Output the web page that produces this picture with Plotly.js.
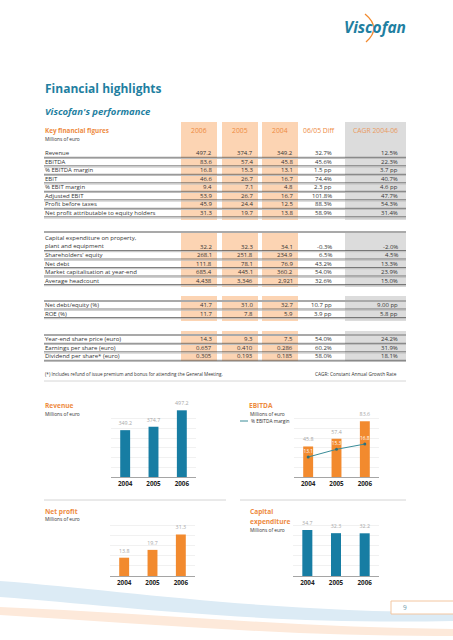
<!DOCTYPE html>
<html><head><meta charset="utf-8">
<script src="https://cdn.plot.ly/plotly-3.0.1.min.js"></script>
<style>html,body{margin:0;padding:0;background:#fff;overflow:hidden}#chart{width:453px;height:640px}</style>
</head><body><div id="chart"></div>
<script>
// ---------- DATA ----------
const years = ['2004', '2005', '2006'];
const revenue = [349.2, 374.7, 497.2];
const ebitda = [45.8, 57.4, 83.6];
const ebitdaMargin = [13.1, 15.3, 16.8];
const netProfit = [13.8, 19.7, 31.3];
const capex = [34.7, 32.3, 32.2];

const tableHeaders = ['2006', '2005', '2004', '06/05 Diff', 'CAGR 2004-06'];

const block1Labels = ['Revenue', 'EBITDA', '% EBITDA margin', 'EBIT', '% EBIT margin', 'Adjusted EBIT', 'Profit before taxes', 'Net profit attributable to equity holders'];
const block1_2006 = ['497.2', '83.6', '16.8', '46.6', '9.4', '53.9', '45.9', '31.3'];
const block1_2005 = ['374.7', '57.4', '15.3', '26.7', '7.1', '26.7', '24.4', '19.7'];
const block1_2004 = ['349.2', '45.8', '13.1', '16.7', '4.8', '16.7', '12.5', '13.8'];
const block1_diff = ['32.7%', '45.6%', '1.5 pp', '74.4%', '2.3 pp', '101.8%', '88.3%', '58.9%'];
const block1_cagr = ['12.5%', '22.3%', '3.7 pp', '40.7%', '4.6 pp', '47.7%', '54.3%', '31.4%'];

const block2Labels = ['Capital expenditure on property,<br>plant and equipment', "Shareholders' equity", 'Net debt', 'Market capitalisation at year-end', 'Average headcount'];
const block2_2006 = ['32.2', '268.1', '111.8', '685.4', '4,438'];
const block2_2005 = ['32.3', '251.8', '78.1', '445.1', '3,346'];
const block2_2004 = ['34.1', '234.9', '76.9', '360.2', '2,921'];
const block2_diff = ['-0.3%', '6.5%', '43.2%', '54.0%', '32.6%'];
const block2_cagr = ['-2.0%', '4.5%', '13.3%', '23.9%', '15.0%'];

const block3Labels = ['Net debt/equity (%)', 'ROE (%)'];
const block3_2006 = ['41.7', '11.7'];
const block3_2005 = ['31.0', '7.8'];
const block3_2004 = ['32.7', '5.9'];
const block3_diff = ['10.7 pp', '3.9 pp'];
const block3_cagr = ['9.00 pp', '5.8 pp'];

const block4Labels = ['Year-end share price (euro)', 'Earnings per share (euro)', 'Dividend per share* (euro)'];
const block4_2006 = ['14.3', '0.657', '0.305'];
const block4_2005 = ['9.3', '0.410', '0.193'];
const block4_2004 = ['7.5', '0.286', '0.185'];
const block4_diff = ['54.0%', '60.2%', '58.0%'];
const block4_cagr = ['24.2%', '31.9%', '18.1%'];

// ---------- LAYOUT HELPERS ----------
const W = 453, H = 640;
const X = p => p / W, Y = p => 1 - p / H;
const F = 'Open Sans, sans-serif';
const TEAL = '#177da3', ORANGE = '#f28a2e', TITLE_OR = '#ee8b3f', HEAD_TEAL = '#1f7fa1';
const PEACH = '#fcd4b3', GREY = '#dcdcdc', TXT = '#333';
const ann = [], shp = [];

function txt(t, x, y, font, o) {
  ann.push(Object.assign({text: t, xref: 'paper', yref: 'paper', x: X(x), y: Y(y), xanchor: 'left', yanchor: 'middle',
    align: 'left', showarrow: false, borderpad: 0, font: Object.assign({family: F, size: 6, color: TXT}, font || {})}, o || {}));
}
function hline(x0, x1, y, color, w, layer) {
  shp.push({type: 'line', xref: 'paper', yref: 'paper', x0: X(x0), x1: X(x1), y0: Y(y), y1: Y(y), line: {color: color, width: w}, layer: layer || 'above'});
}
function rect(x0, x1, y0, y1, fill, line, layer) {
  shp.push({type: 'rect', xref: 'paper', yref: 'paper', x0: X(x0), x1: X(x1), y0: Y(y1), y1: Y(y0), fillcolor: fill,
    line: line || {width: 0}, layer: layer || 'below'});
}
function P(x, y) { return X(x).toFixed(5) + ',' + Y(y).toFixed(5); }

// ---------- HEADER / LOGO ----------
txt('Viscofan', 375, 27, {size: 15.5, color: HEAD_TEAL, weight: 700, style: 'italic'}, {xanchor: 'center'});
shp.push({type: 'path', xref: 'paper', yref: 'paper', path: 'M ' + P(365, 14) + ' Q ' + P(382, 28) + ' ' + P(366, 42),
  line: {color: ORANGE, width: 1.3}});

txt('Financial highlights', 44, 89, {size: 12, color: HEAD_TEAL, weight: 700});
txt("Viscofan's performance", 44, 111, {size: 9.5, color: HEAD_TEAL, weight: 700, style: 'italic'});

// ---------- TABLE ----------
const colBox = [[181, 217], [222, 258], [262, 298]];
const cagrBox = [345, 406];
const colRight = [213, 254, 294, 333, 399];
const headCenter = [199, 240, 280, 318.5, 375.5];
const blocks = [
  {labels: block1Labels, cols: [block1_2006, block1_2005, block1_2004, block1_diff, block1_cagr], first: 153.3, top: 122, bottom: 220, topLine: null},
  {labels: block2Labels, cols: [block2_2006, block2_2005, block2_2004, block2_diff, block2_cagr], first: 246.5, top: 231, bottom: 287, topLine: 232},
  {labels: block3Labels, cols: [block3_2006, block3_2005, block3_2004, block3_diff, block3_cagr], first: 305, top: 296, bottom: 321, topLine: 301},
  {labels: block4Labels, cols: [block4_2006, block4_2005, block4_2004, block4_diff, block4_cagr], first: 339.3, top: 331, bottom: 362, topLine: 335}
];
const PITCH = 8.5;

blocks.forEach(b => {
  colBox.forEach(c => rect(c[0], c[1], b.top, b.bottom, PEACH));
  rect(cagrBox[0], cagrBox[1], b.top, b.bottom, GREY);
  if (b.topLine) hline(44, 406, b.topLine, '#a9a9a9', 2);
  b.labels.forEach((lab, i) => {
    const y = b.first + i * PITCH;
    const twoLine = lab.indexOf('<br>') >= 0;
    txt(lab, 44, twoLine ? y - 4.2 : y, {size: 6});
    b.cols.forEach((col, j) => txt(col[i], colRight[j], y, {size: 6}, {xanchor: 'right'}));
    hline(44, 406, y + 4.0, '#4a4a4a', 0.7);
    hline(44, 406, y + 5.2, '#bdbdbd', 1);
  });
});

txt('Key financial figures', 44, 130, {size: 6.3, color: TITLE_OR, weight: 700});
txt('Millions of euro', 44, 139, {size: 4.8, color: TXT});
tableHeaders.forEach((h, j) => txt(h, headCenter[j], 130, {size: 6.8, color: j === 4 ? '#e99a5e' : TITLE_OR}, {xanchor: 'center'}));

txt('(*) Includes refund of issue premium and bonus for attending the General Meeting.', 44, 374, {size: 4.6});
txt('CAGR: Constant Annual Growth Rate', 398, 374, {size: 4.8}, {xanchor: 'right'});
hline(44, 406, 381, '#d6d6d6', 1);

// ---------- CHART TITLES ----------
const CT = {size: 6.6, color: TITLE_OR, weight: 700};
txt('Revenue', 44, 405, CT);
txt('Millions of euro', 44, 414, {size: 4.8});
txt('EBITDA', 248, 405, CT);
txt('Millions of euro', 249, 414, {size: 4.8});
hline(240, 248, 421, '#3a8c98', 1);
txt('% EBITDA margin', 250, 421, {size: 4.8});
hline(44, 226, 500, '#d4d4d4', 1);
hline(240, 406, 500, '#d4d4d4', 1);
txt('Net profit', 44, 511, CT);
txt('Millions of euro', 44, 519, {size: 4.8});
txt('Capital', 249, 511, CT);
txt('expenditure', 249, 521, CT);
txt('Millions of euro', 249, 530, {size: 4.8});

// ---------- DECORATION ----------
shp.push({type: 'path', xref: 'paper', yref: 'paper', layer: 'below', line: {width: 0}, fillcolor: '#dcebf5',
  path: 'M ' + P(0, 581) + ' C ' + P(120, 590) + ' ' + P(260, 612) + ' ' + P(453, 612) + ' L ' + P(453, 621) +
        ' C ' + P(260, 625) + ' ' + P(120, 606) + ' ' + P(0, 597) + ' Z'});
shp.push({type: 'path', xref: 'paper', yref: 'paper', layer: 'below', line: {width: 0}, fillcolor: '#fde9da',
  path: 'M ' + P(0, 607) + ' C ' + P(150, 613) + ' ' + P(300, 628) + ' ' + P(453, 629) + ' L ' + P(453, 636) +
        ' C ' + P(300, 637) + ' ' + P(150, 624) + ' ' + P(0, 615) + ' Z'});
rect(391, 454, 601, 614, '#ffffff', {color: '#f3c6a0', width: 1}, 'above');
txt('9', 402, 607.5, {size: 6.5, color: '#6f97a8'});

// ---------- AXES ----------
function xax(d0, d1, anchor) {
  return {domain: [X(d0), X(d1)], anchor: anchor, type: 'category', showgrid: false, zeroline: false,
    showline: true, linecolor: '#a5a5a5', linewidth: 1, ticks: '', fixedrange: true,
    tickfont: {family: F, size: 6.3, color: '#222', weight: 700}};
}
function yax(top, bottom, range, n, anchor) {
  return {domain: [Y(bottom), Y(top)], anchor: anchor, range: range, dtick: (range[1] - range[0]) / n,
    showticklabels: false, ticks: '', zeroline: false, showline: false, showgrid: true,
    gridcolor: '#ebebeb', gridwidth: 0.7, fixedrange: true};
}

function bar(vals, color, xa, ya) {
  return {type: 'bar', x: years, y: vals, xaxis: xa, yaxis: ya, width: 0.35,
    marker: {color: color, line: {width: 0}}, text: vals.map(v => v.toFixed(1)), textposition: 'outside',
    constraintext: 'none', cliponaxis: false, outsidetextfont: {family: F, size: 5.3, color: '#a8a8a8'},
    hoverinfo: 'skip', showlegend: false};
}

const data = [
  bar(revenue, TEAL, 'x', 'y'),
  bar(ebitda, ORANGE, 'x2', 'y2'),
  {type: 'scatter', mode: 'lines+markers+text', x: years, y: ebitdaMargin, xaxis: 'x2', yaxis: 'y5',
    line: {color: '#3a8c98', width: 1}, marker: {size: 3, color: '#2f6f78'},
    text: ebitdaMargin.map(v => v.toFixed(1)), textposition: 'top center',
    textfont: {family: F, size: 4.8, color: '#ffffff'}, cliponaxis: false, hoverinfo: 'skip', showlegend: false},
  bar(netProfit, ORANGE, 'x3', 'y3'),
  bar(capex, TEAL, 'x4', 'y4')
];

const layout = {
  width: W, height: H, margin: {l: 0, r: 0, t: 0, b: 0}, paper_bgcolor: '#fff', plot_bgcolor: 'rgba(0,0,0,0)',
  showlegend: false, bargap: 0.6, font: {family: F},
  xaxis: xax(111, 196, 'y'), yaxis: yax(409, 477, [0, 507], 7, 'x'),
  xaxis2: xax(294, 379, 'y2'), yaxis2: yax(409, 477, [0, 102], 7, 'x2'),
  xaxis3: xax(110, 195, 'y3'), yaxis3: yax(515, 576, [0, 46], 6, 'x3'),
  xaxis4: xax(293, 379, 'y4'), yaxis4: yax(515, 576, [0, 46], 6, 'x4'),
  yaxis5: {overlaying: 'y2', anchor: 'x2', range: [7.4, 26.8], visible: false, showgrid: false, fixedrange: true},
  annotations: ann, shapes: shp
};

Plotly.newPlot('chart', data, layout, {staticPlot: true, displayModeBar: false});
</script></body></html>
